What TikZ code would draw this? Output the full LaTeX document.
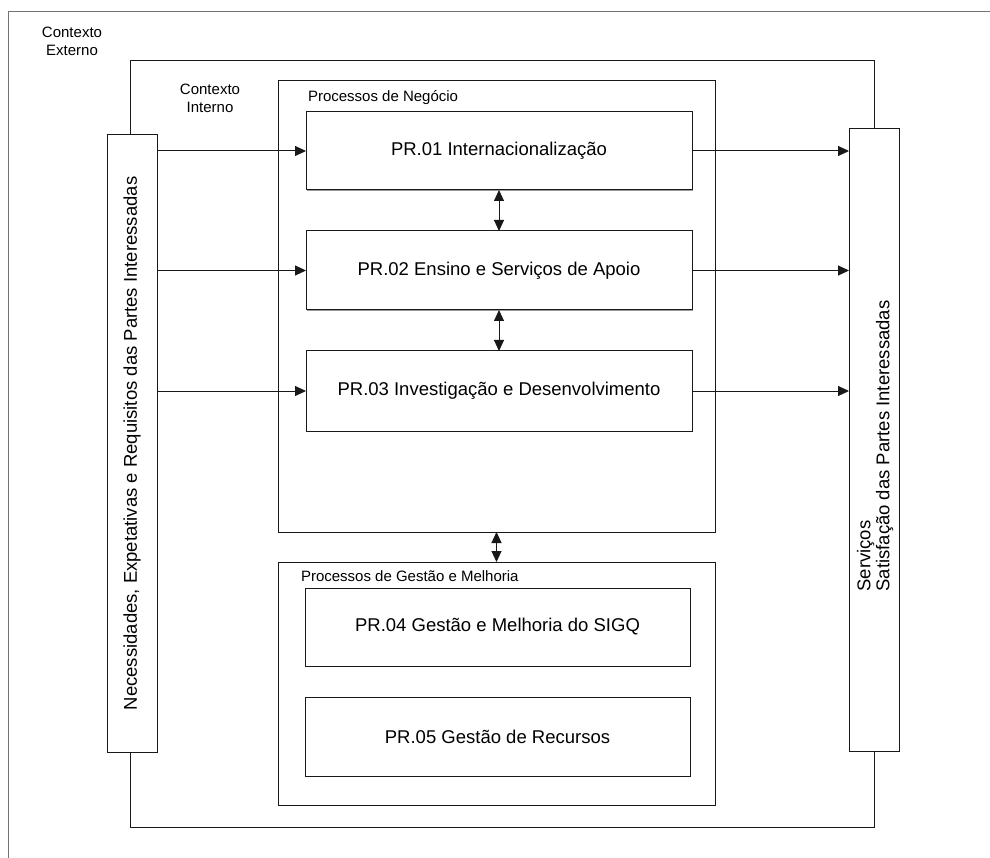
\documentclass[tikz,border=0pt]{standalone}
\usepackage{fontspec}
\setmainfont{Liberation Sans}
\newcommand*{\grande}{\fontsize{18.5}{19}\selectfont}
\newcommand*{\pequeno}{\fontsize{15}{18}\selectfont}
\definecolor{linha}{gray}{0.10}
\definecolor{sombra}{gray}{0.60}
\definecolor{moldura}{gray}{0.45}
\usetikzlibrary{arrows.meta}
\usetikzlibrary{shadows}
\tikzstyle{base}=[x=1pt, y=-1pt, inner sep=0pt, outer sep=0pt, line width=1pt]
\tikzstyle{caixa}=[draw=linha, fill=white, drop shadow={shadow xshift=1pt, shadow yshift=-1pt, fill=sombra, opacity=1}]
\tikzstyle{seta}=[draw=linha, -{Triangle[length=11pt,width=10pt]}]
\tikzstyle{dupla}=[draw=linha, {Triangle[length=11pt,width=10pt]}-{Triangle[length=11pt,width=10pt]}]

\begin{document}
\begin{tikzpicture}[base]
    \useasboundingbox (0,0) rectangle (990,858);
    \draw [moldura] (8,858) -- (8,12) -- (990,12);
    \node [font=\pequeno, align=center] (externo) at (72,41) {Contexto\\Externo};
    \draw [linha] (130,61) rectangle (874,827);
    \node [font=\pequeno, align=center] (interno) at (210,98) {Contexto\\Interno};

    \node [caixa, minimum width=50pt, minimum height=617pt] (esq) at (132,443.5) {};
    \node [caixa, minimum width=50pt, minimum height=622pt] (dir) at (874,440) {};
    \node [rotate=90, font=\grande] at (esq.center) {Necessidades, Expetativas e Requisitos das Partes Interessadas};
    \node [rotate=90, font=\grande, align=left] at (875,446) {Serviços\\Satisfação das Partes Interessadas};

    \node [caixa, minimum width=437pt, minimum height=451pt] (negocio) at (496.5,306.5) {};
    \node [caixa, minimum width=437pt, minimum height=243pt] (gestao) at (496.5,683.5) {};
    \node [anchor=base west, font=\pequeno] at (308,102) {Processos de Negócio};
    \node [anchor=base west, font=\pequeno] at (301,581) {Processos de Gestão e Melhoria};

    \node [caixa, font=\grande, minimum width=386pt, minimum height=78pt] (pr01) at (499,151) {PR.01 Internacionalização};
    \node [caixa, font=\grande, minimum width=386pt, minimum height=79pt] (pr02) at (499,270.5) {PR.02 Ensino e Serviços de Apoio};
    \node [caixa, font=\grande, minimum width=386pt, minimum height=80pt] (pr03) at (499,391) {PR.03 Investigação e Desenvolvimento};
    \node [caixa, font=\grande, minimum width=385pt, minimum height=78pt] (pr04) at (497.5,627) {PR.04 Gestão e Melhoria do SIGQ};
    \node [caixa, font=\grande, minimum width=385pt, minimum height=79pt] (pr05) at (497.5,736.5) {PR.05 Gestão de Recursos};

    \foreach \p in {pr01,pr02,pr03} {
        \draw [seta] (esq.east |- \p.west) -- (\p.west);
        \draw [seta] (\p.east) -- (dir.west |- \p.east);
    }
    \draw [dupla] (pr01.south) -- (pr02.north);
    \draw [dupla] (pr02.south) -- (pr03.north);
    \draw [dupla] (negocio.south) -- (gestao.north);
\end{tikzpicture}
\end{document}
